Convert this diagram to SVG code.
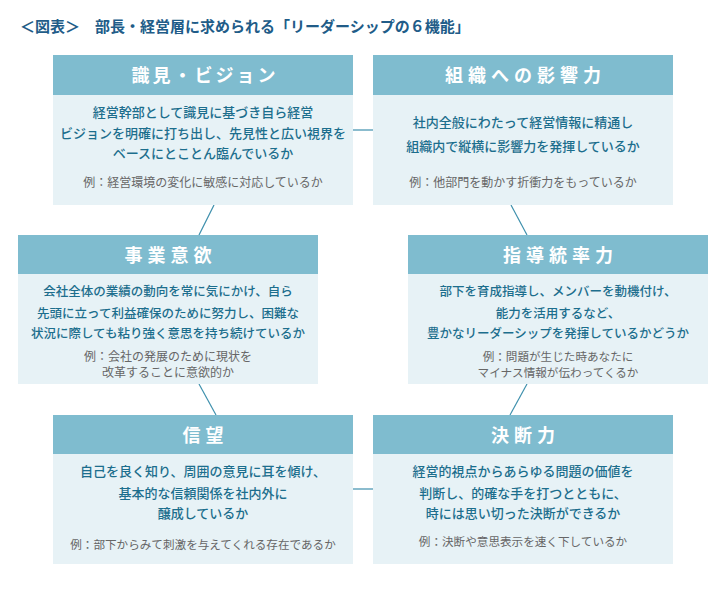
<svg xmlns="http://www.w3.org/2000/svg" width="728" height="600" viewBox="0 0 728 600">
<style>
  text { font-family: "Noto Sans CJK JP", "Noto Sans", sans-serif; text-anchor: middle; }
  .title { font-size: 15px; font-weight: bold; fill: #215c88; text-anchor: start; }
  .hd { fill: #7fbccf; }
  .bd { fill: #e7f2f6; }
  .ht { font-size: 18px; font-weight: bold; fill: #ffffff; letter-spacing: 5px; }
  .t { font-size: 13px; fill: #1c6e8d; font-weight: 500; }
  .t2 { font-size: 12.5px; fill: #1c6e8d; font-weight: 500; }
  .ex { font-size: 12px; fill: #666666; }
  .ex2 { font-size: 11.6px; fill: #666666; }
  .conn line { stroke: #3f90ad; stroke-width: 1.2; fill: none; }
</style>
<rect width="728" height="600" fill="#ffffff"/>
<text class="title" x="20" y="32">＜図表＞　部長・経営層に求められる「リーダーシップの６機能」</text>

<g class="conn">
  <line x1="353" y1="130" x2="373" y2="130"/>
  <line x1="214" y1="205" x2="199" y2="235"/>
  <line x1="511" y1="205" x2="527" y2="235"/>
  <line x1="199" y1="384" x2="216" y2="415"/>
  <line x1="527" y1="384" x2="510" y2="415"/>
  <line x1="353" y1="489" x2="373" y2="489"/>
</g>

<g id="node-vision">
  <rect class="bd" x="53" y="55" width="300" height="150"/>
  <rect class="hd" x="53" y="55" width="300" height="40"/>
  <text class="ht" x="205" y="82" style="letter-spacing:3px">識見・ビジョン</text>
  <text class="t" x="203" y="117">経営幹部として識見に基づき自ら経営</text>
  <text class="t" x="203" y="138">ビジョンを明確に打ち出し、先見性と広い視界を</text>
  <text class="t" x="203" y="158">ベースにとことん臨んでいるか</text>
  <text class="ex" x="203" y="186.5">例：経営環境の変化に敏感に対応しているか</text>
</g>

<g id="node-influence">
  <rect class="bd" x="373" y="55" width="300" height="150"/>
  <rect class="hd" x="373" y="55" width="300" height="40"/>
  <text class="ht" x="525.5" y="82">組織への影響力</text>
  <text class="t" x="523" y="127">社内全般にわたって経営情報に精通し</text>
  <text class="t" x="523" y="151">組織内で縦横に影響力を発揮しているか</text>
  <text class="ex" x="523" y="186.5">例：他部門を動かす折衝力をもっているか</text>
</g>

<g id="node-motivation">
  <rect class="bd" x="18" y="235" width="300" height="149"/>
  <rect class="hd" x="18" y="235" width="300" height="39"/>
  <text class="ht" x="170.5" y="261.5">事業意欲</text>
  <text class="t2" x="168" y="296">会社全体の業績の動向を常に気にかけ、自ら</text>
  <text class="t2" x="168" y="318">先頭に立って利益確保のために努力し、困難な</text>
  <text class="t2" x="168" y="338">状況に際しても粘り強く意思を持ち続けているか</text>
  <text class="ex" x="168" y="360.5">例：会社の発展のために現状を</text>
  <text class="ex" x="168" y="376.5">改革することに意欲的か</text>
</g>

<g id="node-leadership">
  <rect class="bd" x="408" y="235" width="300" height="149"/>
  <rect class="hd" x="408" y="235" width="300" height="39"/>
  <text class="ht" x="560.5" y="261.5">指導統率力</text>
  <text class="t2" x="558" y="296">部下を育成指導し、メンバーを動機付け、</text>
  <text class="t2" x="558" y="318">能力を活用するなど、</text>
  <text class="t2" x="558" y="338">豊かなリーダーシップを発揮しているかどうか</text>
  <text class="ex2" x="558" y="360.5">例：問題が生じた時あなたに</text>
  <text class="ex2" x="558" y="376.5">マイナス情報が伝わってくるか</text>
</g>

<g id="node-trust">
  <rect class="bd" x="53" y="415" width="300" height="149"/>
  <rect class="hd" x="53" y="415" width="300" height="39"/>
  <text class="ht" x="205.5" y="441.5">信望</text>
  <text class="t" x="203" y="476">自己を良く知り、周囲の意見に耳を傾け、</text>
  <text class="t" x="203" y="498">基本的な信頼関係を社内外に</text>
  <text class="t" x="203" y="518">醸成しているか</text>
  <text class="ex2" x="203" y="548.5">例：部下からみて刺激を与えてくれる存在であるか</text>
</g>

<g id="node-decision">
  <rect class="bd" x="373" y="415" width="300" height="149"/>
  <rect class="hd" x="373" y="415" width="300" height="39"/>
  <text class="ht" x="525.5" y="441.5">決断力</text>
  <text class="t" x="523" y="476">経営的視点からあらゆる問題の価値を</text>
  <text class="t" x="523" y="498">判断し、的確な手を打つとともに、</text>
  <text class="t" x="523" y="518">時には思い切った決断ができるか</text>
  <text class="ex2" x="523" y="545.5">例：決断や意思表示を速く下しているか</text>
</g>
</svg>
